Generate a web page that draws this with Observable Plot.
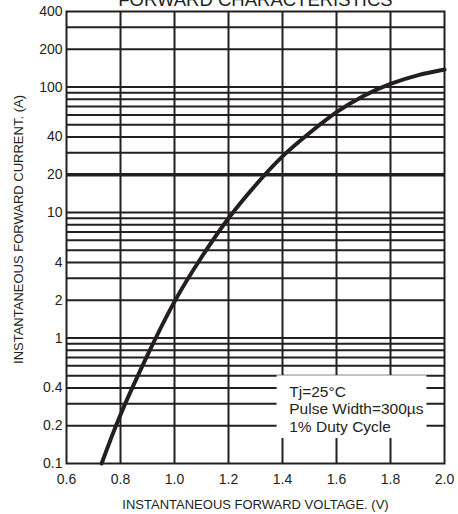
<!DOCTYPE html>
<html><head><meta charset="utf-8">
<script src="https://cdn.jsdelivr.net/npm/d3@7"></script>
<script src="https://cdn.jsdelivr.net/npm/@observablehq/plot@0.6"></script>
<style>body{margin:0;background:#fff;}</style>
</head><body><div id="chart"></div>
<script>
// Data
const voltage = [0.73, 0.8, 0.9, 1.0, 1.1, 1.2, 1.3, 1.4, 1.5, 1.6, 1.7, 1.8, 1.9, 2.0];
const current = [0.1, 0.245, 0.73, 1.95, 4.4, 9.0, 16.5, 28, 43, 63, 85, 106, 124, 138];

const xTicks = [0.6, 0.8, 1.0, 1.2, 1.4, 1.6, 1.8, 2.0];
const xTickLabels = ["0.6", "0.8", "1.0", "1.2", "1.4", "1.6", "1.8", "2.0"];
const yTicks = [0.1, 0.2, 0.4, 1, 2, 4, 10, 20, 40, 100, 200, 400];
const yTickLabels = ["0.1", "0.2", "0.4", "1", "2", "4", "10", "20", "40", "100", "200", "400"];
const yGrid = [0.2, 0.3, 0.4, 0.5, 0.6, 0.7, 0.8, 0.9,
               1, 2, 3, 4, 5, 6, 7, 8, 9,
               10, 30, 40, 50, 60, 70, 80, 90,
               100, 200, 300];
const yHeavyGrid = [20];

const title = "FORWARD CHARACTERISTICS";
const xLabel = "INSTANTANEOUS FORWARD VOLTAGE. (V)";
const yLabel = "INSTANTANEOUS FORWARD CURRENT. (A)";
const legendLines = ["Tj=25°C", "Pulse Width=300µs", "1% Duty Cycle"];

// Layout / style (not data)
const legendBox = {x1: 1.38, x2: 1.935, y1: 0.158, y2: 0.50};
const legendAnchor = {x: 1.425, y: 0.274};
const ink = "#231f20";
const font = "'Liberation Sans', Arial, Helvetica, sans-serif";

const data = voltage.map((v, i) => ({v, a: current[i]}));

const plot = Plot.plot({
  width: 458, height: 514,
  marginTop: 11, marginBottom: 51, marginLeft: 66, marginRight: 14,
  style: {fontFamily: font, color: ink, background: "white"},
  x: {domain: [0.6, 2.0]},
  y: {type: "log", domain: [0.1, 400]},
  marks: [
    Plot.ruleX(xTicks.slice(1, -1), {stroke: ink, strokeWidth: 2}),
    Plot.ruleY(yGrid, {stroke: ink, strokeWidth: 2}),
    Plot.ruleY(yHeavyGrid, {stroke: ink, strokeWidth: 3.5}),
    Plot.rect([legendBox], {x1: "x1", x2: "x2", y1: "y1", y2: "y2", fill: "white"}),
    Plot.frame({stroke: ink, strokeWidth: 2}),
    Plot.line(data, {x: "v", y: "a", stroke: ink, strokeWidth: 4, curve: "natural"}),
    Plot.axisX(xTicks, {tickSize: 0, tickPadding: 11, fontSize: 14, fill: ink, label: null,
      tickFormat: d => xTickLabels[xTicks.indexOf(d)]}),
    Plot.axisY(yTicks, {tickSize: 0, tickPadding: 4, fontSize: 14, fill: ink, label: null,
      tickFormat: d => yTickLabels[yTicks.indexOf(d)]}),
    Plot.text([legendLines.join("\n")], {x: () => legendAnchor.x, y: () => legendAnchor.y, text: d => d,
      textAnchor: "start", lineAnchor: "middle", lineHeight: 1.13, fontSize: 15.5, fill: ink}),
    Plot.text([title], {text: d => d, frameAnchor: "top", lineAnchor: "bottom", dy: -5.5, fontSize: 18.5, fill: ink}),
    Plot.text([xLabel], {text: d => d, frameAnchor: "bottom", lineAnchor: "bottom", dy: 45, fontSize: 13, fill: ink}),
    Plot.text([yLabel], {text: d => d, frameAnchor: "left", textAnchor: "middle", rotate: -90, dx: -48, dy: -8, lineAnchor: "middle", fontSize: 13, fill: ink})
  ]
});
document.getElementById("chart").appendChild(plot);
</script>
</body></html>
